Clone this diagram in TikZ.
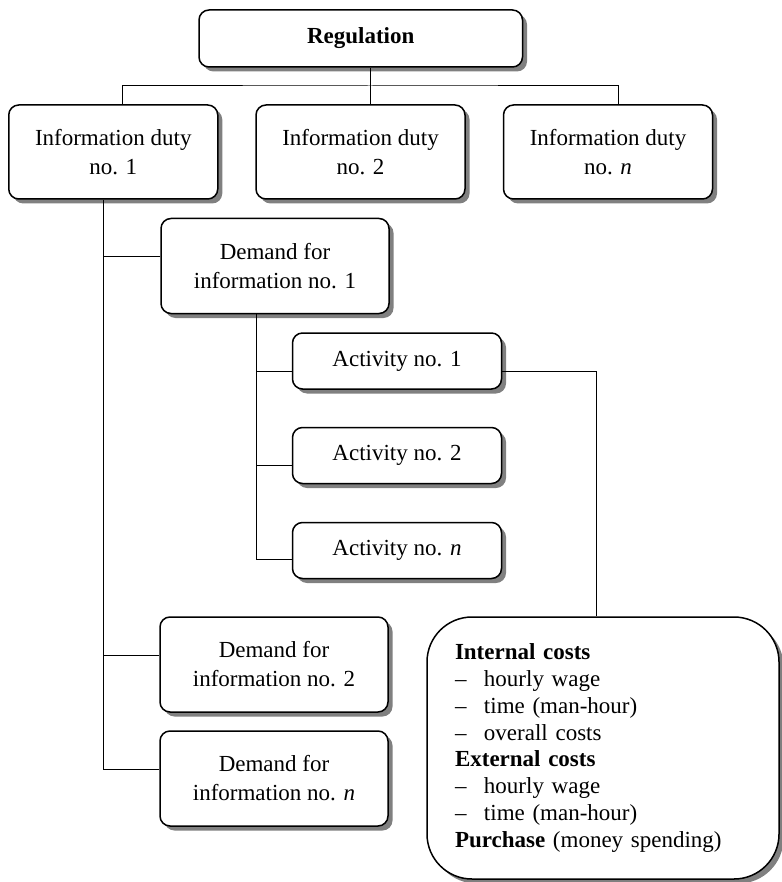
\documentclass[tikz,border=0pt]{standalone}
\usepackage{fontspec}
\setmainfont{Liberation Serif}
\usetikzlibrary{shadows}
\begin{document}
\begin{tikzpicture}[x=1pt,y=-1pt,
  box/.style={draw, line width=1.5pt, fill=white, rounded corners=10pt,
    align=center, inner sep=0pt, font=\fontsize{23}{29}\selectfont,
    drop shadow={shadow xshift=4.5pt, shadow yshift=-4.5pt, fill=black!50, opacity=1}},
  wide/.style={box, minimum width=209pt, minimum height=94pt},
  act/.style={box, minimum width=209pt, minimum height=56pt},
  dem/.style={box, minimum width=228pt, minimum height=95pt},
  link/.style={draw, line width=1pt}]
\useasboundingbox (0,0) rectangle (781,882);
\node[box, minimum width=323.5pt, minimum height=57pt] (reg) at (360.75,38.5) {\textbf{Regulation}};
\node[wide] (id1) at (113.25,152) {Information duty\\no. 1};
\node[wide] (id2) at (360.5,152) {Information duty\\no. 2};
\node[wide] (id3) at (608,152) {Information duty\\no. \textit{n}};
\node[dem] (d1) at (275,266) {Demand for\\information no. 1};
\node[act] (a1) at (397,361) {Activity no. 1};
\node[act] (a2) at (397,455.5) {Activity no. 2};
\node[act] (an) at (397,550.5) {Activity no. \textit{n}};
\node[dem] (d2) at (274,664.5) {Demand for\\information no. 2};
\node[dem] (dn) at (274,778.5) {Demand for\\information no. \textit{n}};
\node[box, rounded corners=45pt, minimum width=352pt, minimum height=262pt,
  text width=296pt, align=left, font=\fontsize{23}{26.8}\selectfont] (costs) at (603,748)
  {\textbf{Internal costs}\\
   \makebox[29pt][l]{–}hourly wage\\
   \makebox[29pt][l]{–}time (man-hour)\\
   \makebox[29pt][l]{–}overall costs\\
   \textbf{External costs}\\
   \makebox[29pt][l]{–}hourly wage\\
   \makebox[29pt][l]{–}time (man-hour)\\
   \textbf{Purchase} (money spending)};
% connectors
\coordinate (bus) at (370,86);
\path[link] ([xshift=9.25pt]reg.south) -- ([xshift=9.5pt]id2.north);
\path[link] ([xshift=8.75pt]id1.north) |- (bus) -| ([xshift=10pt]id3.north);
\coordinate (spine) at ([xshift=-9.75pt]id1.south);
\path[link] (spine) |- ([yshift=9.5pt]dn.west);
\path[link] ([yshift=9pt]d1.west) -- ([yshift=9pt]d1.west -| spine);
\path[link] ([yshift=9pt]d2.west) -- ([yshift=9pt]d2.west -| spine);
\coordinate (spine2) at ([xshift=-19pt]d1.south);
\path[link] (spine2) |- ([yshift=-8.5pt]an.west);
\path[link] ([yshift=-10pt]a1.west) -- ([yshift=-10pt]a1.west -| spine2);
\path[link] ([yshift=-9.5pt]a2.west) -- ([yshift=-9.5pt]a2.west -| spine2);
\path[link] ([yshift=-10pt]a1.east) -| ([xshift=-7pt]costs.north);
\end{tikzpicture}
\end{document}
